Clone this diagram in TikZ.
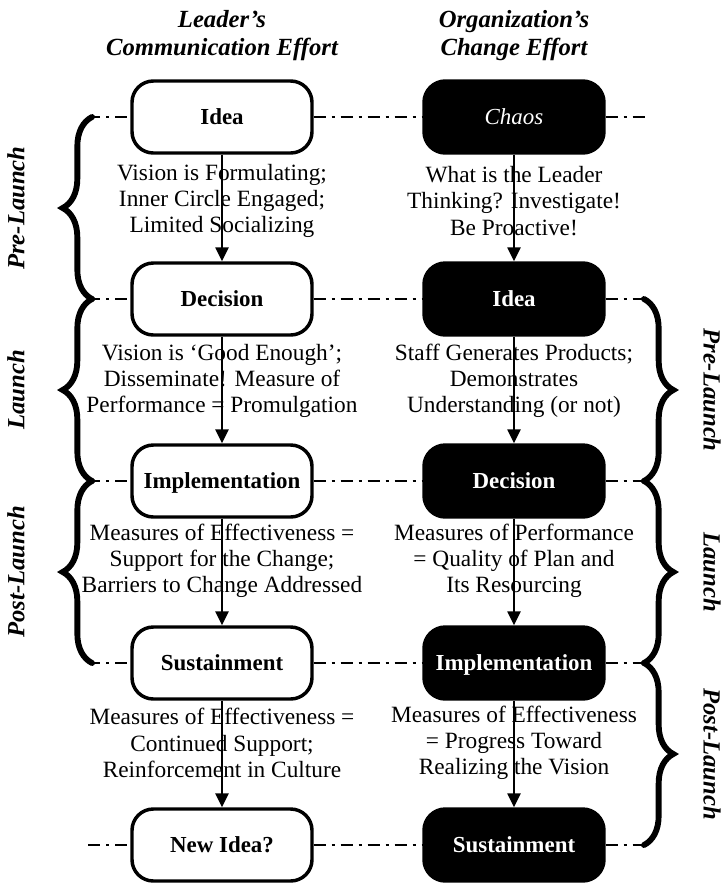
\documentclass[tikz,border=0pt]{standalone}
\usepackage{fontspec}
\setmainfont{Liberation Serif}
\usetikzlibrary{arrows.meta,decorations.pathreplacing}
\begin{document}
\begin{tikzpicture}[x=0.75pt,y=-0.75pt,
  stage/.style={rounded corners=16pt, minimum width=135pt, minimum height=54pt,
    line width=2.6pt, draw=black, font=\fontsize{17.2}{19}\selectfont\bfseries, inner sep=0pt,
    text height=11.3pt, text depth=0.3pt},
  lstage/.style={stage, fill=white, text=black},
  rstage/.style={stage, fill=black, text=white},
  note/.style={align=center, font=\fontsize{17.5}{19.6}\selectfont, inner sep=0pt},
  head/.style={align=center, font=\fontsize{18.5}{21}\selectfont\bfseries\itshape, inner sep=0pt},
  phase/.style={font=\fontsize{18.5}{21}\selectfont\bfseries\itshape, inner sep=0pt},
  flow/.style={line width=1.1pt, -{Triangle[width=10pt,length=10.5pt]}},
  guide/.style={line width=1.5pt, dash pattern=on 9pt off 4.5pt on 2.25pt off 4.5pt},
  bracket/.style={line width=4.4pt, line cap=round, decorate, decoration={brace, amplitude=22pt, aspect=0.5}}
]
\useasboundingbox (0,0) rectangle (723,883);

% headers
\node[head] (hl) at (222,36) {Leader’s\\Communication Effort};
\node[head] (hr) at (514,36) {Organization’s\\Change Effort};

% stages
\node[lstage] (l1) at (222,117) {Idea};
\node[lstage] (l2) at (222,299) {Decision};
\node[lstage] (l3) at (222,481) {Implementation};
\node[lstage] (l4) at (222,663) {Sustainment};
\node[lstage] (l5) at (222,845) {New Idea?};

\node[rstage] (r1) at (514,117) {\mdseries\itshape Chaos};
\node[rstage] (r2) at (514,299) {Idea};
\node[rstage] (r3) at (514,481) {Decision};
\node[rstage] (r4) at (514,663) {Implementation};
\node[rstage] (r5) at (514,845) {Sustainment};

% guide coordinates
\foreach \i/\y in {1/117,2/299,3/481,4/663,5/845}{
  \coordinate (L\i) at (88,\y);
  \coordinate (R\i) at (648,\y);
}
\coordinate (BL1) at (92,117);
\coordinate (BL2) at (92,299);
\coordinate (BL3) at (92,481);
\coordinate (BL4) at (92,663);
\coordinate (BR2) at (644,299);
\coordinate (BR3) at (644,481);
\coordinate (BR4) at (644,663);
\coordinate (BR5) at (644,845);

% dash-dot guides
\foreach \i in {1,...,5}{
  \draw[guide] (L\i) -- (l\i.west);
  \draw[guide] (l\i.east) -- (r\i.west);
  \draw[guide] (r\i.east) -- (R\i);
}

% arrows
\draw[flow] (l1.south) -- (l2.north);
\draw[flow] (l2.south) -- (l3.north);
\draw[flow] (l3.south) -- (l4.north);
\draw[flow] (l4.south) -- (l5.north);
\draw[flow] (r1.south) -- (r2.north);
\draw[flow] (r2.south) -- (r3.north);
\draw[flow] (r3.south) -- (r4.north);
\draw[flow] (r4.south) -- (r5.north);

% notes
\node[note] (nl1) at (222,201) {Vision is Formulating;\\Inner Circle Engaged;\\Limited Socializing};
\node[note] (nl2) at (222,381) {Vision is ‘Good Enough’;\\Disseminate! Measure of\\Performance = Promulgation};
\node[note] (nl3) at (222,561) {Measures of Effectiveness =\\Support for the Change;\\Barriers to Change Addressed};
\node[note] (nl4) at (222,743) {Measures of Effectiveness =\\Continued Support;\\Reinforcement in Culture};

\node[note] (nr1) at (514,201) {What is the Leader\\Thinking? Investigate!\\Be Proactive!};
\node[note] (nr2) at (514,381) {Staff Generates Products;\\Demonstrates\\Understanding (or not)};
\node[note] (nr3) at (514,561) {Measures of Performance\\= Quality of Plan and\\Its Resourcing};
\node[note] (nr4) at (514,743) {Measures of Effectiveness\\= Progress Toward\\Realizing the Vision};

% braces
\draw[bracket] (BL2) -- (BL1);
\draw[bracket] (BL3) -- (BL2);
\draw[bracket] (BL4) -- (BL3);
\draw[bracket] (BR2) -- (BR3);
\draw[bracket] (BR3) -- (BR4);
\draw[bracket] (BR4) -- (BR5);

% phase labels
\node[phase, rotate=90] (pl1) at (16,208) {Pre-Launch};
\node[phase, rotate=90] (pl2) at (16,390) {Launch};
\node[phase, rotate=90] (pl3) at (16,572) {Post-Launch};
\node[phase, rotate=-90] (pr1) at (712,390) {Pre-Launch};
\node[phase, rotate=-90] (pr2) at (712,572) {Launch};
\node[phase, rotate=-90] (pr3) at (712,754) {Post-Launch};
\end{tikzpicture}
\end{document}
